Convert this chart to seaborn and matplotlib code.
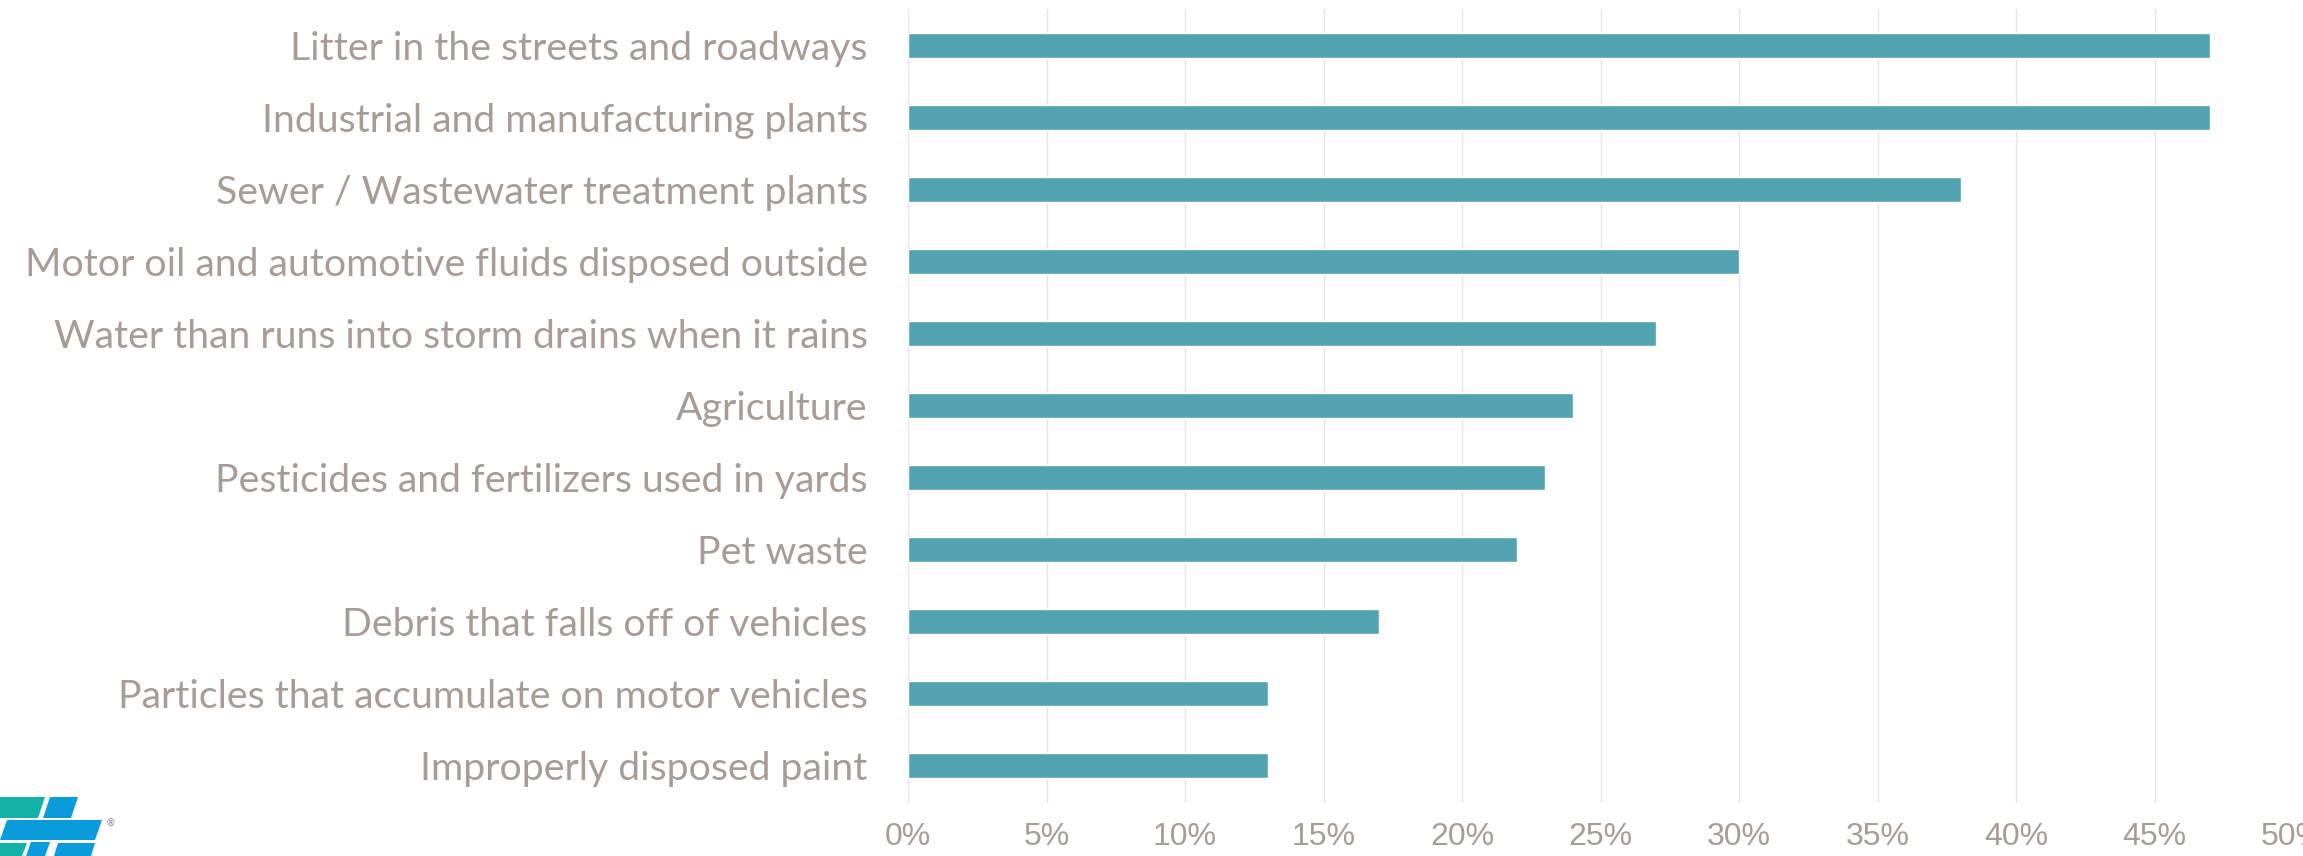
import pandas as pd
import matplotlib.pyplot as plt
import matplotlib.patches as mpatches
from matplotlib.ticker import PercentFormatter
import seaborn as sns

# Survey answers (share of respondents, %)
sources = [
    'Litter in the streets and roadways',
    'Industrial and manufacturing plants',
    'Sewer / Wastewater treatment plants',
    'Motor oil and automotive fluids disposed outside',
    'Water than runs into storm drains when it rains',
    'Agriculture',
    'Pesticides and fertilizers used in yards',
    'Pet waste',
    'Debris that falls off of vehicles',
    'Particles that accumulate on motor vehicles',
    'Improperly disposed paint',
]
shares = [47, 47, 38, 30, 27, 24, 23, 22, 17, 13, 13]
x_ticks = [0, 5, 10, 15, 20, 25, 30, 35, 40, 45, 50]

df = pd.DataFrame({'source': sources, 'share': shares})

bar_color = '#53A4B0'
text_color = '#A89C94'
grid_color = '#E8E4E1'

sns.set_theme(style='white')

fig = plt.figure(figsize=(23.03, 8.56), dpi=100)
ax = fig.add_axes([908 / 2303, 53 / 856, (2293 - 908) / 2303, (847 - 53) / 856])

sns.barplot(data=df, x='share', y='source', orient='h', color=bar_color,
            width=0.35, saturation=1, ax=ax, zorder=3)

ax.set_xlim(0, 50)
ax.set_ylim(10.52, -0.51)
ax.set_xticks(x_ticks)
ax.xaxis.set_major_formatter(PercentFormatter(decimals=0))
ax.grid(axis='x', color=grid_color, linewidth=1.0, zorder=0)
ax.grid(axis='y', visible=False)
ax.set_axisbelow(True)
for s in ax.spines.values():
    s.set_visible(False)
ax.set_xlabel('')
ax.set_ylabel('')
ax.tick_params(axis='both', length=0)
ax.tick_params(axis='x', pad=14, labelsize=23, labelcolor=text_color)
ax.tick_params(axis='y', pad=29, labelsize=28.3, labelcolor=text_color)
for lab in ax.get_xticklabels():
    lab.set_fontfamily(['Liberation Sans', 'DejaVu Sans'])
for lab in ax.get_yticklabels():
    lab.set_fontfamily(['Lato', 'DejaVu Sans'])

# logo in the lower left corner (decoration)
H = 856
def poly(pts, color):
    fig.patches.append(mpatches.Polygon([(x, H - y) for x, y in pts], closed=True,
                                        transform=None, facecolor=color,
                                        edgecolor='none'))

teal = '#14B1A6'
blue = '#0A9BDD'
poly([(0, 797), (45, 797), (38, 818), (0, 818)], teal)
poly([(0, 843), (27, 843), (22, 856), (0, 856)], teal)
poly([(50, 797), (78, 797), (71, 818), (43, 818)], blue)
poly([(7, 820), (102, 820), (95, 840), (0, 840)], blue)
poly([(31, 842), (50, 842), (45, 856), (26, 856)], blue)
poly([(58, 843), (95, 843), (91, 856), (54, 856)], blue)
fig.text(106 / 2303, 1 - 823 / 856, '®', fontsize=7, color='#888888',
         ha='left', va='center')

fig.savefig('out.png', dpi=100)
